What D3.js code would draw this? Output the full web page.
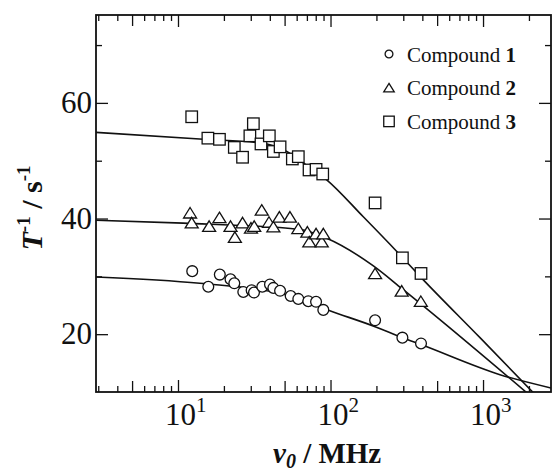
<!DOCTYPE html>
<html>
<head>
<meta charset="utf-8">
<script src="https://cdn.jsdelivr.net/npm/d3@7"></script>
<style>
body { margin: 0; background: #fff }
svg { display: block; font-family: "Liberation Serif", "DejaVu Serif", serif }
</style>
</head>
<body>
<svg width="554" height="473"></svg>
<script>
// values: nu0 in MHz, T^-1 in s^-1
var c1Freq = [12.4, 15.8, 18.8, 22.1, 23.4, 26.8, 30.4, 31.5, 35.7, 40.1, 42.2, 46.7, 54.8, 61.5, 71.5, 80.4, 89.7, 196, 296, 392]
var c1Rate = [30.9, 28.2, 30.3, 29.5, 28.8, 27.3, 27.6, 27.2, 28.2, 28.6, 28.0, 27.5, 26.6, 26.1, 25.7, 25.6, 24.2, 22.4, 19.4, 18.4]

var c2Freq = [12.0, 12.3, 16.0, 18.7, 22.1, 23.6, 26.5, 30.1, 31.6, 35.4, 39.5, 42.2, 46.2, 54.2, 61.5, 70.5, 72.6, 80.4, 87.6, 89.7, 196, 293, 391]
var c2Rate = [41.0, 39.3, 38.7, 40.2, 38.7, 36.8, 39.3, 38.4, 38.7, 41.5, 39.4, 38.6, 40.3, 40.3, 38.3, 37.7, 36.0, 37.4, 36.0, 37.4, 30.5, 27.5, 25.7]

var c3Freq = [12.3, 15.7, 18.7, 23.4, 26.5, 29.6, 31.2, 35.0, 39.7, 42.2, 46.7, 56.2, 61.5, 72.3, 80.4, 88.9, 196, 296, 392]
var c3Rate = [57.6, 53.9, 53.7, 52.3, 50.6, 54.3, 56.4, 52.9, 54.3, 51.6, 52.4, 50.3, 50.7, 48.4, 48.5, 47.7, 42.7, 33.2, 30.5]

// fitted curves
var fit1Freq = [2.9, 13.9, 51.6, 100, 196, 296, 392, 1291, 2790]
var fit1Rate = [29.9, 28.8, 26.8, 24.0, 21.3, 19.4, 18.2, 13.0, 10.7]
var fit2Freq = [2.9, 10.8, 63.1, 94.4, 191, 293, 396, 1950]
var fit2Rate = [39.7, 39.2, 38.1, 36.6, 31.8, 27.9, 25.1, 9.8]
var fit3Freq = [2.9, 14.7, 34.5, 51.6, 66.4, 94.4, 164, 272, 396, 955, 2150]
var fit3Rate = [54.9, 53.7, 53.1, 51.6, 49.6, 46.7, 40.3, 34.3, 29.7, 19.4, 9.8]

var xMajor = [10, 100, 1000]
var xMajorExp = ["1", "2", "3"]
var xMedium = [5, 50, 500]
var xMinor = [3, 4, 6, 7, 8, 9, 20, 30, 40, 60, 70, 80, 90, 200, 300, 400, 600, 700, 800, 900, 2000]
var yMajor = [20, 40, 60]
var yMinor = [30, 50, 70]
var legendNums = ["1", "2", "3"]

var plotL = 96, plotT = 15, plotR = 551, plotB = 392
var svg = d3.select("svg")

var x = d3.scaleLog().domain([2.9, 2790]).range([plotL, plotR])
var y = d3.scaleLinear().domain([10, 75.2]).range([plotB, plotT])

function zip(a, b) { return a.map(function(v, i) { return [v, b[i]] }) }

// ticks: all point into the plot
function xTicks(vals, len) {
    svg.append("g").attr("transform", "translate(0," + plotB + ")")
        .call(d3.axisBottom(x).tickValues(vals).tickSize(-len).tickFormat(""))
    svg.append("g").attr("transform", "translate(0," + plotT + ")")
        .call(d3.axisTop(x).tickValues(vals).tickSize(-len).tickFormat(""))
}
function yTicks(vals, len) {
    svg.append("g").attr("transform", "translate(" + plotL + ",0)")
        .call(d3.axisLeft(y).tickValues(vals).tickSize(-len).tickFormat(""))
    svg.append("g").attr("transform", "translate(" + plotR + ",0)")
        .call(d3.axisRight(y).tickValues(vals).tickSize(-len).tickFormat(""))
}
xTicks(xMajor, 12)
xTicks(xMedium, 11)
xTicks(xMinor, 6)
yTicks(yMajor, 12)
yTicks(yMinor, 6)
svg.selectAll(".domain").remove()
svg.selectAll(".tick line").attr("stroke", "#111").attr("stroke-width", 1.3)

// frame
svg.append("rect")
    .attr("x", plotL).attr("y", plotT)
    .attr("width", plotR - plotL).attr("height", plotB - plotT)
    .attr("fill", "none").attr("stroke", "#111").attr("stroke-width", 1.8)

// tick labels
svg.append("g").selectAll("text").data(yMajor).enter().append("text")
    .attr("x", plotL - 4).attr("y", function(d) { return y(d) + 10 })
    .attr("text-anchor", "end").attr("font-size", 31).attr("fill", "#111")
    .text(function(d) { return d })

var xl = svg.append("g").selectAll("text").data(xMajor).enter().append("text")
    .attr("x", function(d) { return x(d) - 13 }).attr("y", 425)
    .attr("font-size", 31).attr("fill", "#111")
xl.append("tspan").text("10")
xl.append("tspan").attr("font-size", 21).attr("dy", -13)
    .text(function(d, i) { return xMajorExp[i] })

// axis titles
var xt = svg.append("text").attr("x", 273).attr("y", 463)
    .attr("font-size", 29).attr("font-weight", "bold").attr("fill", "#111")
xt.append("tspan").attr("font-style", "italic").text("\u03bd")
xt.append("tspan").attr("font-style", "italic").attr("font-size", 20).attr("dy", 5).text("0")
xt.append("tspan").attr("dy", -5).text(" / MHz")

var yt = svg.append("text")
    .attr("transform", "translate(42,208) rotate(-90)")
    .attr("text-anchor", "middle")
    .attr("font-size", 30).attr("font-weight", "bold").attr("fill", "#111")
yt.append("tspan").attr("font-style", "italic").text("T")
yt.append("tspan").attr("font-size", 19).attr("dy", -12).text("-1")
yt.append("tspan").attr("dy", 12).text(" / s")
yt.append("tspan").attr("font-size", 19).attr("dy", -12).text("-1")

// fitted lines
svg.append("clipPath").attr("id", "plotclip").append("rect")
    .attr("x", plotL).attr("y", plotT).attr("width", plotR - plotL).attr("height", plotB - plotT)

var line = d3.line()
    .x(function(d) { return x(d[0]) })
    .y(function(d) { return y(d[1]) })
    .curve(d3.curveMonotoneX)

var fits = [zip(fit1Freq, fit1Rate), zip(fit2Freq, fit2Rate), zip(fit3Freq, fit3Rate)]
svg.append("g").attr("clip-path", "url(#plotclip)")
    .selectAll("path").data(fits).enter().append("path")
    .attr("d", line)
    .attr("fill", "none").attr("stroke", "#111").attr("stroke-width", 1.6)

// markers
function triPath(w, h) {
    return "M0," + (-h / 2) + "L" + (w / 2) + "," + (h / 2) + "L" + (-w / 2) + "," + (h / 2) + "Z"
}
function drawMarker(g, kind, big) {
    if (kind == 0) {
        g.append("circle").attr("r", big ? 5.4 : 3.9)
    } else if (kind == 1) {
        g.append("path").attr("d", big ? triPath(13, 10.5) : triPath(10.5, 8.5))
    } else {
        var s = big ? 11.5 : 10.5
        g.append("rect").attr("x", -s / 2).attr("y", -s / 2).attr("width", s).attr("height", s)
    }
    g.selectAll("*").attr("fill", "#fff").attr("stroke", "#111").attr("stroke-width", 1.3)
}

var sets = [zip(c1Freq, c1Rate), zip(c2Freq, c2Rate), zip(c3Freq, c3Rate)]
sets.forEach(function(pts, k) {
    svg.append("g").selectAll("g").data(pts).enter().append("g")
        .attr("transform", function(d) { return "translate(" + x(d[0]) + "," + y(d[1]) + ")" })
        .each(function() { drawMarker(d3.select(this), k, true) })
})

// legend
var leg = svg.append("g").selectAll("g").data(legendNums).enter().append("g")
    .attr("transform", function(d, i) { return "translate(389," + (54 + i * 33.7) + ")" })
leg.each(function(d, i) { drawMarker(d3.select(this), i, false) })
var lt = leg.append("text").attr("x", 18).attr("y", 7.5)
    .attr("font-size", 21).attr("fill", "#111")
lt.append("tspan").text("Compound ")
lt.append("tspan").attr("font-weight", "bold").text(function(d) { return d })
</script>
</body>
</html>
